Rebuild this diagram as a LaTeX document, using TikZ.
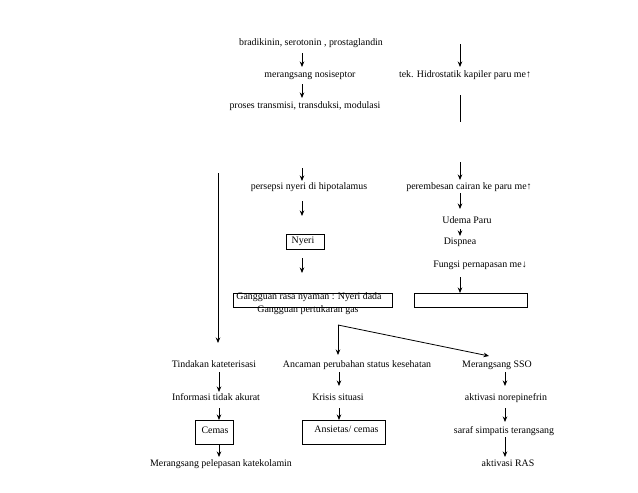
\documentclass[tikz,border=0pt]{standalone}
\usepackage{fontspec}
\setmainfont{Liberation Serif}
\usetikzlibrary{arrows.meta}
\tikzset{
  lbl/.style={inner sep=0pt, font=\fontsize{9.9}{11}\selectfont, text height=6.8pt, text depth=1.8pt},
  bx/.style={draw, line width=0.8pt, inner sep=0pt},
  arr/.style={line width=0.8pt, -{Stealth[length=5.5pt,width=4.5pt]}},
  ln/.style={line width=0.8pt},
}
\newcommand\varr[4]{\coordinate (#1a) at (#2,#3); \coordinate (#1b) at (#2,#4); \draw[arr] (#1a) -- (#1b);}
\begin{document}
\begin{tikzpicture}[x=1pt,y=-1pt]
\useasboundingbox (0,0) rectangle (638,493);
% left column (pain)
\node[lbl] (brad) at (311,43) {bradikinin, serotonin , prostaglandin};
\node[lbl] (meran) at (310,75) {merangsang nosiseptor};
\node[lbl] (proses) at (305,106) {proses transmisi, transduksi, modulasi};
\node[lbl] (persepsi) at (309,187) {persepsi nyeri di hipotalamus};
\node[bx, minimum width=38pt, minimum height=15pt] (nyeribox) at (305,241.5) {};
\node[lbl] (nyeri) at (303,241) {Nyeri};
\node[bx, minimum width=159pt, minimum height=14pt] (gbox) at (312.5,300) {};
\node[lbl] (g1) at (309,297) {Gangguan rasa nyaman : Nyeri dada};
\node[lbl] (g2) at (308,310) {Gangguan pertukaran gas};
% right column
\node[lbl] (tek) at (465,75) {tek. Hidrostatik kapiler paru me↑};
\node[lbl] (perem) at (469,187) {perembesan cairan ke paru me↑};
\node[lbl] (udema) at (467,221) {Udema Paru};
\node[lbl] (disp) at (460,242) {Dispnea};
\node[lbl] (fungsi) at (480,265) {Fungsi pernapasan me↓};
\node[bx, minimum width=113pt, minimum height=14pt] (rbox) at (470.5,300) {};
% bottom rows
\node[lbl] (tind) at (214,365) {Tindakan kateterisasi};
\node[lbl] (anc) at (357,365) {Ancaman perubahan status kesehatan};
\node[lbl] (sso) at (497,365) {Merangsang SSO};
\node[lbl] (info) at (216,398) {Informasi tidak akurat};
\node[lbl] (krisis) at (338,398) {Krisis situasi};
\node[lbl] (nor) at (506,398) {aktivasi norepinefrin};
\node[bx, minimum width=38pt, minimum height=24pt] (cemasbox) at (214,432) {};
\node[lbl] (cemas) at (215,431) {Cemas};
\node[bx, minimum width=83pt, minimum height=24pt] (ansbox) at (343.5,432) {};
\node[lbl] (ans) at (346.5,430) {Ansietas/ cemas};
\node[lbl] (saraf) at (504,431) {saraf simpatis terangsang};
\node[lbl] (merkat) at (221,464) {Merangsang pelepasan katekolamin};
\node[lbl] (ras) at (508,464) {aktivasi RAS};
% arrows
\varr{a1}{302}{53}{67}
\varr{a2}{302}{84}{98}
\varr{a3}{460}{44}{67}
\coordinate (l4a) at (460,95); \coordinate (l4b) at (460,122);
\draw[ln] (l4a) -- (l4b);
\varr{a5}{302}{168}{181}
\varr{a6}{460}{162}{180}
\varr{a7}{302}{201}{216}
\varr{a8}{460}{193}{209}
\varr{a9}{460}{229}{236}
\varr{a10}{302}{258}{273}
\varr{a11}{460}{277}{293}
\varr{a12}{218}{173}{343}
% split
\coordinate (sp) at (338,325);
\coordinate (spd) at (338,355);
\coordinate (spr) at (489,356);
\draw[arr] (sp) -- (spd);
\draw[arr] (sp) -- (spr);
\varr{a13}{219}{372}{392}
\varr{a14}{339}{372}{386}
\varr{a15}{505}{372}{386}
\varr{a16}{219}{408}{420}
\varr{a17}{339}{408}{420}
\varr{a18}{505}{408}{422}
\varr{a19}{219}{444}{457}
\varr{a20}{505}{437}{457}
\end{tikzpicture}
\end{document}
